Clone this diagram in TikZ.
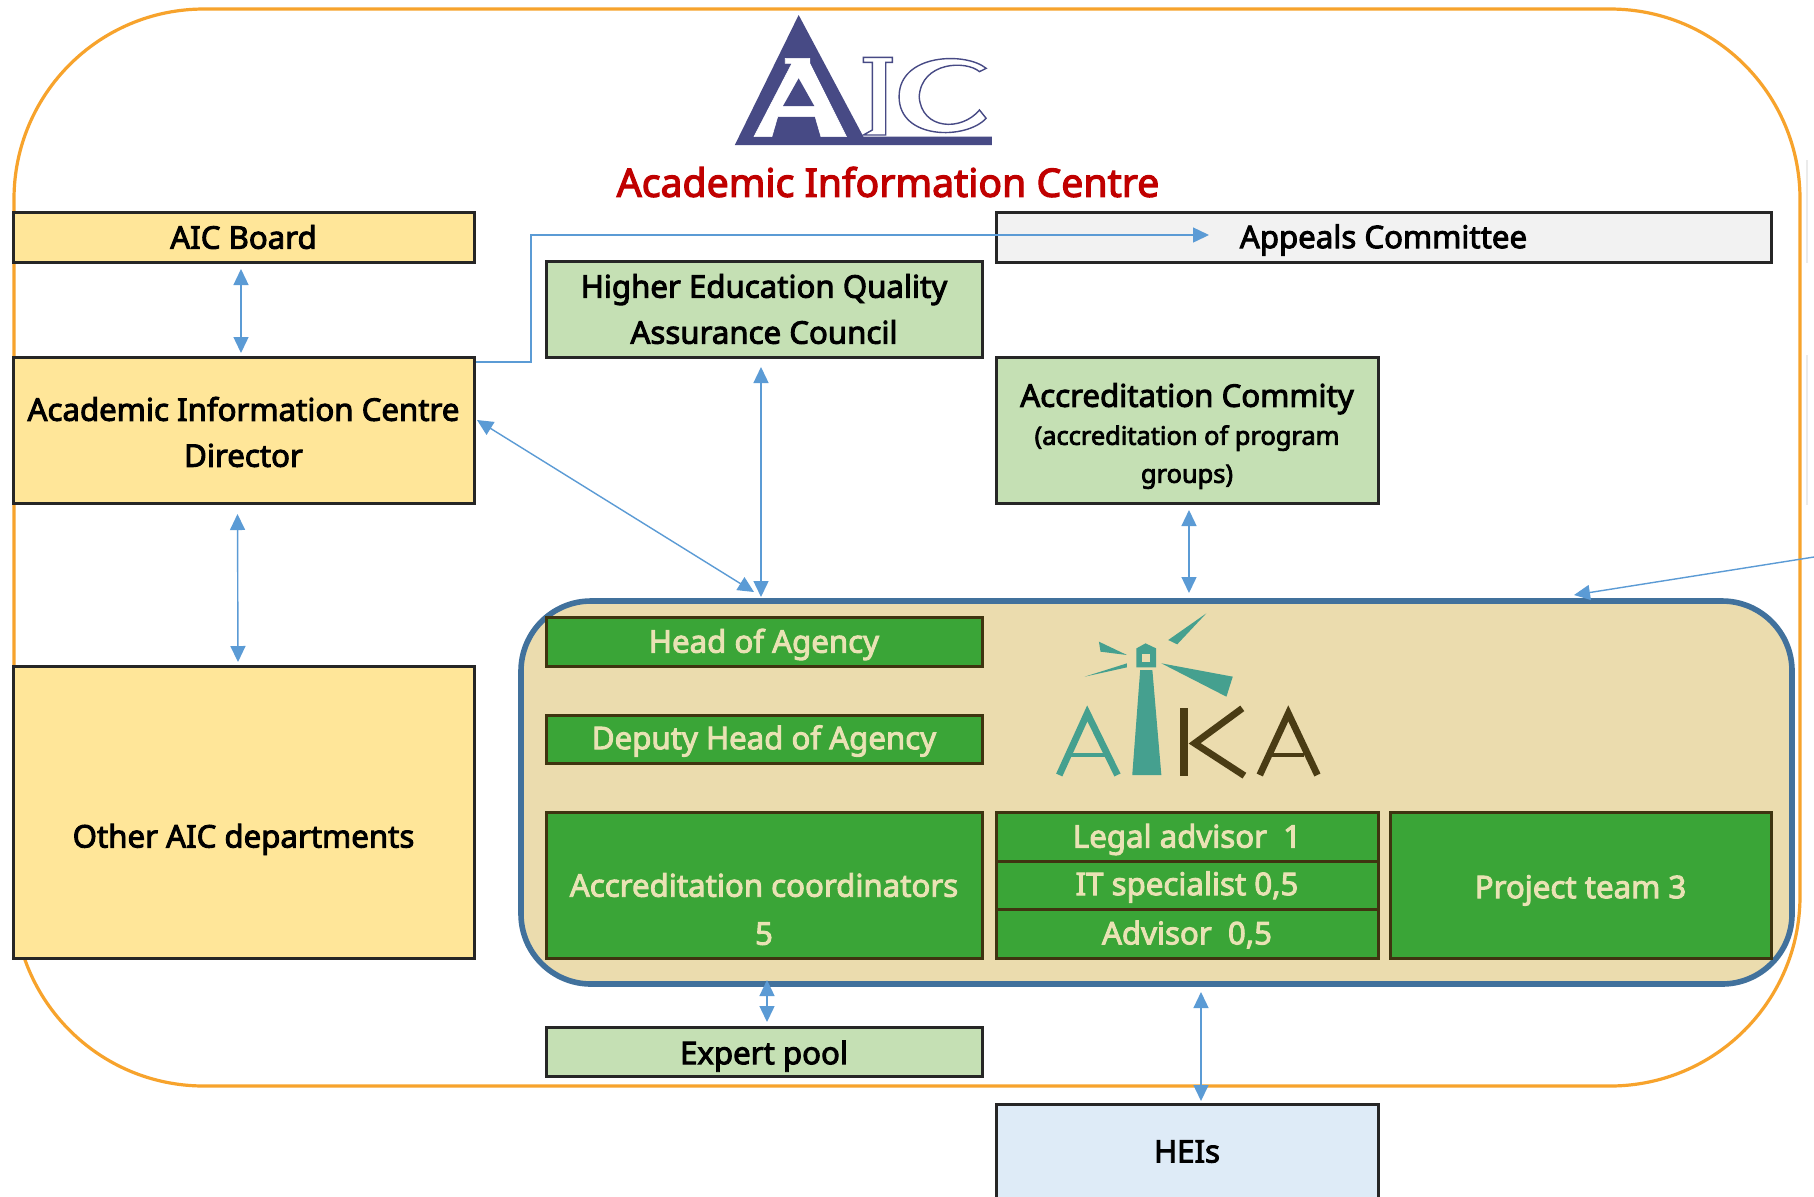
\documentclass[tikz,border=0pt]{standalone}
\usepackage{fontspec}
\setmainfont{Noto Sans}[BoldFont={Noto Sans},BoldFeatures={FakeBold=3}]
\usetikzlibrary{arrows.meta}
\definecolor{orangeL}{HTML}{F7A32C}
\definecolor{yel}{HTML}{FFE699}
\definecolor{lgreen}{HTML}{C5E0B4}
\definecolor{lgrey}{HTML}{F2F2F2}
\definecolor{lblue}{HTML}{DEEBF7}
\definecolor{aikaB}{HTML}{41719C}
\definecolor{aikaF}{HTML}{EBDCAE}
\definecolor{dgreen}{HTML}{3AA537}
\definecolor{brownB}{HTML}{3F3410}
\definecolor{paleT}{HTML}{E9E2B4}
\definecolor{arrowC}{HTML}{5B9BD5}
\definecolor{navy}{HTML}{474A85}
\definecolor{teal}{HTML}{45A08F}
\definecolor{kbrown}{HTML}{4A3C14}
\definecolor{titleR}{HTML}{C00000}
\tikzset{
  boxbase/.style={draw=black!85,line width=1.5pt,inner sep=0pt,outer sep=0pt,rectangle},
  yelbox/.style={boxbase,fill=yel},
  grnbox/.style={boxbase,fill=lgreen},
  grybox/.style={boxbase,fill=lgrey},
  blubox/.style={boxbase,fill=lblue},
  dkbox/.style={boxbase,draw=brownB,fill=dgreen},
  darktext/.style={font=\fontsize{15.6}{23}\selectfont\bfseries,align=center,text=black,inner sep=0pt},
  paletext/.style={font=\fontsize{15.6}{24}\selectfont\bfseries,align=center,text=paleT,inner sep=0pt},
  biarrow/.style={draw=arrowC,line width=0.7pt,{Triangle[length=8pt,width=7.5pt,fill=arrowC]}-{Triangle[length=8pt,width=7.5pt,fill=arrowC]}},
  oneway/.style={draw=arrowC,line width=0.7pt,-{Triangle[length=8pt,width=7.5pt,fill=arrowC]}}
}
\newcommand{\bx}[9]{%
  \pgfmathsetmacro{\cxx}{(#2+#4)/2}%
  \pgfmathsetmacro{\cyy}{(#3+#5)/2}%
  \pgfmathsetmacro{\wdd}{(#4-#2)/2}%
  \pgfmathsetmacro{\htt}{(#5-#3)/2}%
  \node[#6,minimum width=\wdd pt,minimum height=\htt pt] (#1) at (\cxx,\cyy) {};
  \node[#7] (#1-t) at ([yshift=#8]#1.center) {#9};
}
\begin{document}
\begin{tikzpicture}[x=0.5pt,y=-0.5pt]
\useasboundingbox (0,0) rectangle (1814,1196);
\fill[white] (0,0) rectangle (1814,1196);
% outer
\node[draw=orangeL,line width=1.6pt,rounded corners=95pt,minimum width=893pt,minimum height=538.5pt,inner sep=0pt,outer sep=0pt] (outer) at (907,547.5) {};
% faint edges
\draw[black!8,line width=0.6pt] (1807,160) -- (1807,263) (1807,355) -- (1807,505);
% AIC logo
\begin{scope}[shift={(600,0)},x=0.5pt/2.24,y=-0.5pt/3]
  \fill[navy] (445,45) -- (302,435) -- (878,435) -- (878,410) -- (590,410) -- cycle;
  \draw[white,fill=white,line width=0.3pt] (415,175) -- (470,175) -- (470,190) -- (552,410) -- (495,410) -- (482,350) -- (398,350) -- (385,410) -- (345,410) -- (430,190) -- (415,190) -- cycle;
  \fill[navy] (445,235) -- (410,318) -- (480,318) -- cycle;
  \draw[navy,fill=white,line width=0.7pt] (590,172) -- (655,172) -- (655,187) -- (640,187) -- (640,405) -- (590,405) -- (610,390) -- (610,187) -- (590,187) -- cycle;
  \draw[navy,fill=white,line width=0.7pt] (865,205) -- (850,215) .. controls (820,180) and (720,185) .. (715,290) .. controls (720,390) and (810,395) .. (850,330) -- (865,355) .. controls (820,420) and (670,420) .. (670,290) .. controls (670,160) and (820,155) .. (865,205) -- cycle;
\end{scope}
\node[font=\fontsize{19.6}{23}\selectfont\bfseries,text=titleR,inner sep=0pt] (title) at (888,182) {Academic Information Centre};
% left column
\bx{board}{13}{212}{474}{262}{yelbox}{darktext}{0pt}{AIC Board}
\bx{director}{13}{357}{474}{503}{yelbox}{darktext}{-1pt}{Academic Information Centre\\Director}
\bx{other}{13}{666}{474}{958}{yelbox}{darktext}{-13.7pt}{Other AIC departments}
% middle top
\bx{heq}{546}{261}{982}{357}{grnbox}{darktext}{0pt}{Higher Education Quality\\Assurance Council}
\bx{appeals}{996}{212}{1771}{262}{grybox}{darktext}{-1.5pt}{Appeals Committee}
\bx{accr}{996}{357}{1378}{503}{grnbox}{font=\fontsize{12.7}{19}\selectfont\bfseries,align=center,inner sep=0pt}{-3pt}{{\fontsize{15.6}{19}\selectfont Accreditation Commity}\\(accreditation of program\\groups)}
% AIKA container
\node[draw=aikaB,fill=aikaF,line width=2.8pt,rounded corners=35pt,minimum width=635.5pt,minimum height=191.5pt,inner sep=0pt,outer sep=0pt] (aika) at (1156.5,792.5) {};
\bx{head}{546}{617}{982}{666}{dkbox}{paletext}{-1.5pt}{Head of Agency}
\bx{deputy}{546}{715}{982}{763}{dkbox}{paletext}{-1pt}{Deputy Head of Agency}
\bx{coord}{546}{812}{982}{958}{dkbox}{paletext}{-12pt}{Accreditation coordinators\\5}
\bx{legal}{996}{812}{1378}{861}{dkbox}{paletext}{-1.5pt}{Legal advisor\ \ 1}
\bx{itsp}{996}{861}{1378}{909}{dkbox}{paletext}{-1pt}{IT specialist 0,5}
\bx{advisor}{996}{909}{1378}{958}{dkbox}{paletext}{-0.5pt}{Advisor\ \ 0,5}
\bx{project}{1390}{812}{1771}{958}{dkbox}{paletext}{-2.7pt}{Project team 3}
% AIKA logo
\begin{scope}[shift={(1000,580)},x=0.5pt/1.89,y=-0.5pt/3]
  \fill[teal] (250,585) -- (265,270) -- (288,270) -- (305,585) -- cycle;
  \fill[teal] (258,262) -- (258,205) -- (275,190) -- (295,205) -- (295,262) -- cycle;
  \fill[aikaF] (268,222) rectangle (283,245);
  \fill[teal] (305,250) -- (440,290) -- (428,350) -- cycle;
  \fill[teal] (318,180) -- (390,100) -- (335,193) -- cycle;
  \fill[teal] (187,185) -- (240,225) -- (190,215) -- cycle;
  \fill[teal] (160,290) -- (240,250) -- (240,262) -- cycle;
  \draw[teal,line width=3.4pt,line join=miter] (112,585) -- (165,400) -- (222,585);
  \draw[teal,line width=2.4pt] (135,525) -- (200,525);
  \draw[kbrown,line width=4pt] (348,385) -- (348,587);
  \draw[kbrown,line width=3.4pt] (458,385) -- (368,490) -- (462,587);
  \draw[kbrown,line width=3.4pt,line join=miter] (491,585) -- (545,400) -- (600,585);
  \draw[kbrown,line width=2.4pt] (515,525) -- (575,525);
\end{scope}
% lower boxes
\bx{expert}{546}{1027}{982}{1076}{grnbox}{darktext}{-2.3pt}{Expert pool}
\bx{heis}{996}{1104}{1378}{1199}{blubox}{darktext}{0pt}{HEIs}
% connectors
\draw[biarrow] ([xshift=-1.25pt,yshift=-3.5pt]board.south) -- ([xshift=-1.25pt,yshift=2pt]director.north);
\draw[biarrow] ([xshift=-3pt,yshift=-5.5pt]director.south) -- ([xshift=-2.75pt,yshift=2pt]other.north);
\draw[biarrow] ([xshift=1.5pt,yshift=5pt]director.east) -- ([xshift=116.5pt,yshift=4.5pt]aika.north west);
\draw[biarrow] ([xshift=-1.5pt,yshift=-5pt]heq.south) -- ([xshift=120pt,yshift=2pt]aika.north west);
\draw[biarrow] ([xshift=1pt,yshift=-3.5pt]accr.south) -- ([xshift=334pt,yshift=4pt]aika.north west);
\draw[biarrow] ([xshift=123pt,yshift=2pt]aika.south west) -- ([xshift=1.5pt,yshift=2.5pt]expert.north);
\draw[biarrow] ([xshift=340pt,yshift=-4pt]aika.south west) -- ([xshift=7pt,yshift=1.5pt]heis.north);
\coordinate (stub1) at (531,362);
\coordinate (stub2) at (531,235);
\draw[oneway] ([xshift=1pt,yshift=-2.5pt]director.north east) -- (stub1) -- (stub2) -- ([xshift=106.5pt,yshift=1pt]appeals.west);
\coordinate (feed) at (1814,557);
\draw[oneway] (feed) -- ([xshift=526.5pt,yshift=3pt]aika.north west);
\end{tikzpicture}
\end{document}
